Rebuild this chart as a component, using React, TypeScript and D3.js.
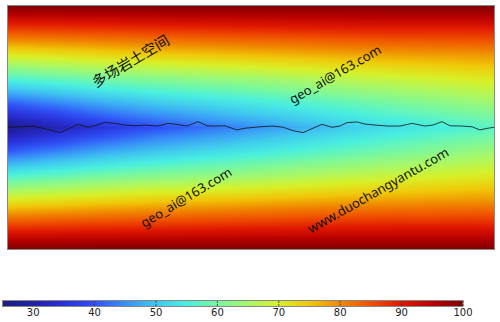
import React from 'react';
import * as d3 from 'd3';

// field samples: value at each level (bottom -> top) for each station
const stationX = [0, 50, 100, 150, 200];
const levelY = [0, 10, 20, 30, 40, 50, 60, 70, 80, 90, 100];
const valuesX0 = [100, 86, 71, 56, 41, 27, 41, 56, 71, 86, 100];
const valuesX50 = [100, 87, 74, 61, 49, 38, 49, 61, 74, 87, 100];
const valuesX100 = [100, 88, 76, 64, 54, 45, 54, 64, 76, 88, 100];
const valuesX150 = [100, 89, 78, 68, 59, 52, 59, 68, 78, 89, 100];
const valuesX200 = [100, 89, 79, 71, 64, 57, 64, 71, 79, 89, 100];

// interface line
const lineX = [0, 4.9, 10.3, 14.4, 21.4, 25.5, 28.8, 32.9, 36.6, 39.9, 44.0, 48.1, 52.3, 56.4, 61.7, 65.8, 68.7, 73.7, 78.2, 81.9, 85.2, 89.3, 94.2, 97.5, 103.7, 109.1, 113.2, 117.3, 121.4, 125.5, 129.2, 133.3, 136.6, 139.5, 143.6, 146.9, 151.0, 156.4, 161.3, 166.3, 171.6, 174.9, 178.6, 181.9, 186.8, 191.0, 194.2, 197.5, 200];
const lineY = [50.1, 50.3, 50.6, 49.7, 47.9, 49.7, 51.3, 50.1, 51.0, 52.1, 51.7, 51.0, 50.7, 51.0, 50.6, 51.7, 51.4, 50.6, 52.4, 50.7, 50.6, 50.7, 49.0, 49.7, 50.3, 50.6, 50.1, 48.7, 47.9, 49.7, 51.3, 50.1, 50.6, 52.0, 52.3, 51.4, 51.0, 50.6, 50.6, 51.7, 50.6, 51.0, 52.4, 50.7, 50.6, 50.3, 49.0, 49.7, 50.1];

const barTicks = [30, 40, 50, 60, 70, 80, 90, 100];
const barDomain = [25, 100];

const rampValues = [25, 30, 35, 40, 45, 50, 55, 60, 65, 70, 75, 80, 85, 90, 95, 100];
const rampColors = ['#1c1c80', '#2020a8', '#2830d8', '#3050f8', '#3890f8', '#40c8f0', '#48f0e0', '#78f8a0', '#a8f868', '#d8f028', '#f0c808', '#f08800', '#f05000', '#e01800', '#b80000', '#800000'];

const watermarks = ['多场岩土空间', 'geo_ai@163.com', 'geo_ai@163.com', 'www.duochangyantu.com'];

export default function App() {
  const W = 500, H = 322;
  const x = d3.scaleLinear().domain([0, 200]).range([8, 494]);
  const y = d3.scaleLinear().domain([0, 100]).range([249, 6]);
  const color = d3.scaleLinear<string>().domain(rampValues).range(rampColors).interpolate(d3.interpolateRgb).clamp(true);
  const bar = d3.scaleLinear().domain(barDomain).range([2.5, 463]);

  const columns = [valuesX0, valuesX50, valuesX100, valuesX150, valuesX200].map(col =>
    d3.scaleLinear().domain(levelY).range(col));
  const stopX = d3.range(0, 201, 20);

  const rows: {py: number, stops: {o: number, c: string}[]}[] = [];
  for (let py = 6; py < 249; py++) {
    const yd = y.invert(py + 0.5);
    const across = d3.scaleLinear().domain(stationX).range(columns.map(c => c(yd)));
    rows.push({py, stops: stopX.map(xd => ({o: xd / 200, c: color(across(xd))}))});
  }

  const line = d3.line<number>().x((d, i) => x(lineX[i])).y(d => y(d)).curve(d3.curveLinear);

  const barStops = rampValues.map(v => ({o: (bar(v) - bar(barDomain[0])) / (bar(barDomain[1]) - bar(barDomain[0])), c: color(v)}));

  const marks = [
    {t: watermarks[0], cx: 130, cy: 60, a: -31, f: 'Noto Sans CJK SC', s: 14.5},
    {t: watermarks[1], cx: 335, cy: 74, a: -30, f: 'Noto Sans', s: 13},
    {t: watermarks[2], cx: 186, cy: 197, a: -31, f: 'Noto Sans', s: 13},
    {t: watermarks[3], cx: 378, cy: 190, a: -29.5, f: 'Noto Sans', s: 13},
  ];

  return (
    <svg width={W} height={H} style={{position: 'fixed', left: 0, top: 0, background: '#fff'}}>
      <defs>
        {rows.map(r => (
          <linearGradient key={r.py} id={'row' + r.py} gradientUnits="userSpaceOnUse" x1={x(0)} x2={x(200)} y1={0} y2={0}>
            {r.stops.map((s, i) => <stop key={i} offset={s.o} stopColor={s.c} />)}
          </linearGradient>
        ))}
        <linearGradient id="barGrad" x1="0" x2="1" y1="0" y2="0">
          {barStops.map((s, i) => <stop key={i} offset={s.o} stopColor={s.c} />)}
        </linearGradient>
      </defs>
      <g shapeRendering="crispEdges">
        {rows.map(r => (
          <rect key={r.py} x={x(0)} y={r.py} width={x(200) - x(0)} height={1} fill={`url(#row${r.py})`} />
        ))}
      </g>
      <path d={line(lineY) || ''} fill="none" stroke="#111" strokeWidth={0.8} />
      <rect x={x(0) - 0.5} y={5.5} width={x(200) - x(0) + 1} height={244} fill="none" stroke="#888" strokeWidth={1} />
      {marks.map((m, i) => (
        <text key={i} x={m.cx} y={m.cy} transform={`rotate(${m.a} ${m.cx} ${m.cy})`} textAnchor="middle" dominantBaseline="central"
          fontFamily={m.f} fontSize={m.s} fill="#111">{m.t}</text>
      ))}
      <rect x={bar(barDomain[0])} y={300.5} width={bar(barDomain[1]) - bar(barDomain[0])} height={6} fill="url(#barGrad)" stroke="#888" strokeWidth={1} />
      {barTicks.map(t => (
        <g key={t}>
          <line x1={bar(t)} x2={bar(t)} y1={301} y2={303} stroke="#333" strokeWidth={0.8} />
          <line x1={bar(t)} x2={bar(t)} y1={304} y2={306} stroke="#333" strokeWidth={0.8} />
          <text x={bar(t)} y={312.5} textAnchor="middle" dominantBaseline="central" fontFamily="DejaVu Sans" fontSize={10} fill="#222">{t}</text>
        </g>
      ))}
    </svg>
  );
}
